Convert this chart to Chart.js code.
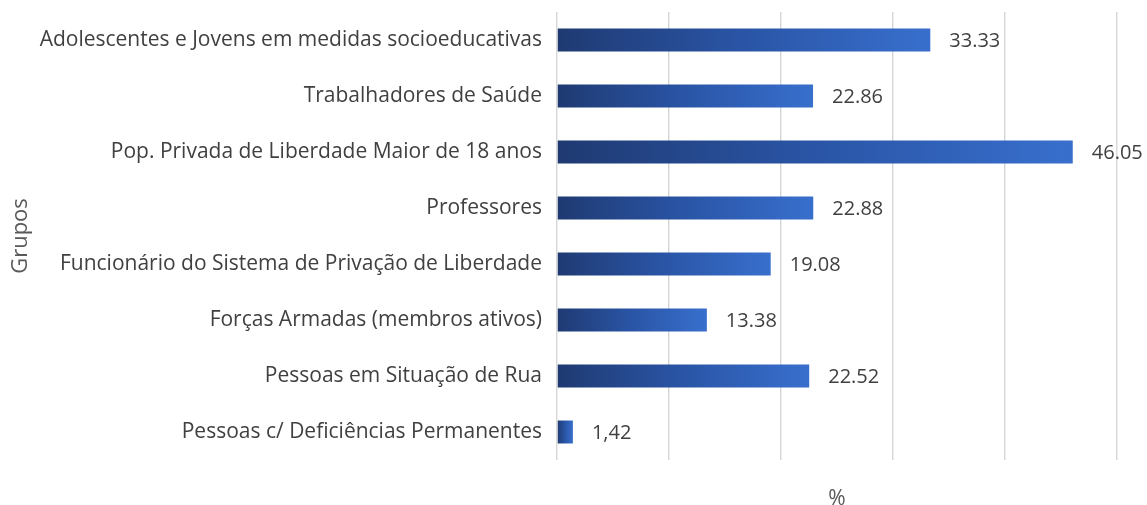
<!DOCTYPE html>
<html>
<head>
<meta charset="utf-8">
<script src="https://cdn.jsdelivr.net/npm/chart.js@4"></script>
<style>
  html, body { margin: 0; padding: 0; background: #fff; }
  #wrap { width: 1147px; height: 505px; position: relative; }
</style>
</head>
<body>
<div id="wrap"><canvas id="grupos"></canvas></div>
<script>
const categories = [
  "Adolescentes e Jovens em medidas socioeducativas",
  "Trabalhadores de Saúde",
  "Pop. Privada de Liberdade Maior de 18 anos",
  "Professores",
  "Funcionário do Sistema de Privação de Liberdade",
  "Forças Armadas (membros ativos)",
  "Pessoas em Situação de Rua",
  "Pessoas c/ Deficiências Permanentes",
];
const values = [33.33, 22.86, 46.05, 22.88, 19.08, 13.38, 22.52, 1.42];
const valueLabels = ["33.33", "22.86", "46.05", "22.88", "19.08", "13.38", "22.52", "1,42"];
const xTicks = [0, 10, 20, 30, 40, 50];

const fontFamily = "'Open Sans', sans-serif";
const textColor = "#404040";

// gradient per bar, dark on the left to bright blue at the end
function barGradient(context) {
  const chart = context.chart;
  if (!chart.chartArea || context.type !== "data") return "#2b55a5";
  const xScale = chart.scales.x;
  const x0 = xScale.getPixelForValue(0);
  const x1 = xScale.getPixelForValue(values[context.dataIndex]);
  const g = chart.ctx.createLinearGradient(x0, 0, Math.max(x1, x0 + 1), 0);
  g.addColorStop(0, "#1f3a72");
  g.addColorStop(0.5, "#2a55a6");
  g.addColorStop(1, "#386fcd");
  return g;
}

const valueLabelPlugin = {
  id: "valueLabels",
  afterDatasetsDraw(chart) {
    const ctx = chart.ctx;
    const meta = chart.getDatasetMeta(0);
    ctx.save();
    ctx.font = `20px ${fontFamily}`;
    ctx.fillStyle = textColor;
    ctx.textAlign = "left";
    ctx.textBaseline = "middle";
    meta.data.forEach((bar, i) => {
      ctx.fillText(valueLabels[i], bar.x + 19, bar.y + 1);
    });
    ctx.restore();
  },
};

new Chart(document.getElementById("grupos"), {
  type: "bar",
  data: {
    labels: categories,
    datasets: [
      {
        data: values,
        backgroundColor: barGradient,
        borderWidth: 0,
        barPercentage: 0.41,
        categoryPercentage: 1,
      },
    ],
  },
  plugins: [valueLabelPlugin],
  options: {
    indexAxis: "y",
    responsive: true,
    maintainAspectRatio: false,
    animation: false,
    layout: { padding: { top: 0, right: 30, left: 0, bottom: 0 } },
    plugins: {
      legend: { display: false },
      tooltip: { enabled: false },
    },
    scales: {
      x: {
        min: xTicks[0],
        max: xTicks[xTicks.length - 1],
        afterBuildTicks: (scale) => {
          scale.ticks = xTicks.map((v) => ({ value: v }));
        },
        ticks: { display: false },
        grid: { color: "#d9d9d9", lineWidth: 1.5, drawTicks: false },
        border: { display: false },
        title: {
          display: true,
          text: "%",
          color: "#595959",
          font: { family: fontFamily, size: 21, lineHeight: 1 },
          padding: { top: -5, bottom: -5 },
        },
        afterFit: (scale) => {
          scale.height = 45;
        },
      },
      y: {
        ticks: {
          color: textColor,
          font: { family: fontFamily, size: 21 },
          padding: 7,
        },
        grid: { display: false },
        border: { display: false },
        title: {
          display: true,
          text: "Grupos",
          color: "#595959",
          font: { family: fontFamily, size: 22 },
          padding: { top: 8, bottom: 8 },
        },
        afterFit: (scale) => {
          scale.width = 557;
          scale.paddingTop = 12;
          scale.paddingBottom = 0;
        },
      },
    },
  },
});
</script>
</body>
</html>
